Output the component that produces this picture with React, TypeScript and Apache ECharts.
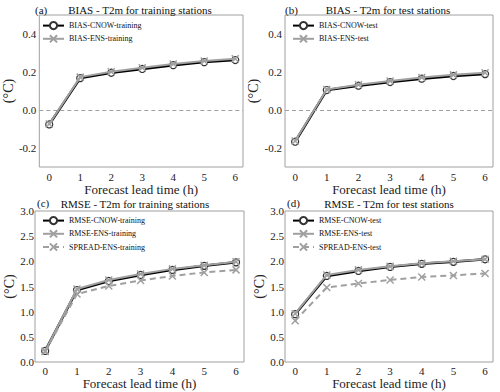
import React, { useEffect, useRef } from "react";
import * as echarts from "echarts";

const leadTimes = [0, 1, 2, 3, 4, 5, 6];

const biasCnowTraining = [-0.076, 0.168, 0.196, 0.216, 0.236, 0.252, 0.263];
const biasEnsTraining = [-0.074, 0.173, 0.201, 0.222, 0.242, 0.258, 0.27];
const biasCnowTest = [-0.167, 0.105, 0.128, 0.147, 0.165, 0.179, 0.189];
const biasEnsTest = [-0.163, 0.108, 0.133, 0.153, 0.171, 0.185, 0.196];

const rmseCnowTraining = [0.22, 1.43, 1.61, 1.73, 1.83, 1.91, 1.98];
const rmseEnsTraining = [0.22, 1.45, 1.63, 1.75, 1.85, 1.92, 1.99];
const spreadEnsTraining = [0.21, 1.35, 1.51, 1.62, 1.71, 1.78, 1.83];
const rmseCnowTest = [0.95, 1.71, 1.81, 1.89, 1.95, 1.99, 2.04];
const rmseEnsTest = [0.96, 1.73, 1.83, 1.9, 1.96, 2.0, 2.04];
const spreadEnsTest = [0.82, 1.48, 1.56, 1.63, 1.69, 1.72, 1.76];

const biasTicks = [-0.2, 0, 0.2, 0.4];

const panelTitles = [
  "BIAS - T2m for training stations",
  "BIAS - T2m for test stations",
  "RMSE - T2m for training stations",
  "RMSE - T2m for test stations",
];
const panelLetters = ["(a)", "(b)", "(c)", "(d)"];

const FONT = "Liberation Serif";
const GRAY = "#a0a0a0";
const XSYM = "path://M0,0L10,10M10,0L0,10";

function pairs(vals: number[]) {
  return vals.map((v, i) => [leadTimes[i], v]);
}

export default function App() {
  const ref = useRef<HTMLDivElement>(null);
  useEffect(() => {
    if (!ref.current) return;
    const chart = echarts.init(ref.current, null, { renderer: "svg" });

    const grids = [
      { left: 35, top: 15, width: 208, height: 152 },
      { left: 285, top: 15, width: 208, height: 152 },
      { left: 35, top: 211, width: 209, height: 151 },
      { left: 285, top: 211, width: 208, height: 151 },
    ].map((g) => ({ ...g, show: true, borderColor: GRAY, borderWidth: 1, backgroundColor: "transparent" }));

    const xAxes = grids.map((_, i) => ({
      type: "value",
      gridIndex: i,
      min: -0.32,
      max: 6.25,
      axisLine: { show: false },
      axisTick: { show: false },
      splitLine: { show: false },
      axisLabel: {
        customValues: leadTimes,
        formatter: (v: number) => String(v),
        fontFamily: FONT,
        fontSize: 11,
        color: "#222",
        margin: i < 2 ? 4 : 3,
      },
      name: "Forecast lead time (h)",
      nameLocation: "middle",
      nameGap: i < 2 ? 12 : 11,
      nameTextStyle: { fontFamily: FONT, fontSize: 13, fontWeight: "normal", color: "#222" },
    }));

    const yAxes = grids.map((_, i) => {
      const base: any = {
        type: "value",
        gridIndex: i,
        axisLine: { show: false },
        axisTick: { show: false },
        splitLine: { show: false },
        name: "(°C)",
        nameLocation: "middle",
        nameGap: 16,
        nameTextStyle: { fontFamily: FONT, fontSize: 14, fontWeight: "normal", color: "#222" },
      };
      if (i < 2) {
        base.min = -0.3;
        base.max = 0.5;
        base.axisLabel = {
          customValues: biasTicks,
          formatter: (v: number) => v.toFixed(1),
          fontFamily: FONT,
          fontSize: 11,
          color: "#222",
          margin: 3,
        };
      } else {
        base.min = 0;
        base.max = 3;
        base.interval = 0.5;
        base.axisLabel = {
          formatter: (v: number) => v.toFixed(1),
          fontFamily: FONT,
          fontSize: 11,
          color: "#222",
          margin: 1,
        };
      }
      return base;
    });

    const cnow = (name: string, data: number[], idx: number, zero: boolean) => ({
      name,
      type: "line",
      xAxisIndex: idx,
      yAxisIndex: idx,
      data: pairs(data),
      symbol: "circle",
      symbolSize: 7,
      showSymbol: true,
      lineStyle: { color: "#000", width: 2.5 },
      itemStyle: { color: "#fff", borderColor: "#333", borderWidth: 1.2 },
      z: 2,
      markLine: zero
        ? {
            silent: true,
            symbol: "none",
            label: { show: false },
            lineStyle: { color: GRAY, type: [4, 3], width: 1 },
            data: [{ yAxis: 0 }],
          }
        : undefined,
    });
    const ens = (name: string, data: number[], idx: number, dashed: boolean) => ({
      name,
      type: "line",
      xAxisIndex: idx,
      yAxisIndex: idx,
      data: pairs(data),
      symbol: XSYM,
      symbolSize: 7,
      showSymbol: true,
      lineStyle: { color: GRAY, width: 2, type: dashed ? [6, 4] : "solid" },
      itemStyle: { color: GRAY, borderColor: GRAY, borderWidth: 1.5 },
      z: 3,
    });

    const series = [
      cnow("BIAS-CNOW-training", biasCnowTraining, 0, true),
      ens("BIAS-ENS-training", biasEnsTraining, 0, false),
      cnow("BIAS-CNOW-test", biasCnowTest, 1, true),
      ens("BIAS-ENS-test", biasEnsTest, 1, false),
      cnow("RMSE-CNOW-training", rmseCnowTraining, 2, false),
      ens("RMSE-ENS-training", rmseEnsTraining, 2, false),
      ens("SPREAD-ENS-training", spreadEnsTraining, 2, true),
      cnow("RMSE-CNOW-test", rmseCnowTest, 3, false),
      ens("RMSE-ENS-test", rmseEnsTest, 3, false),
      ens("SPREAD-ENS-test", spreadEnsTest, 3, true),
    ];

    const legendBase = {
      orient: "vertical",
      itemWidth: 21,
      itemHeight: 9,
      itemGap: 4,
      itemTextGap: 2,
      textStyle: { fontFamily: FONT, fontSize: 8, color: "#111" },
      selectedMode: false,
      padding: 0,
    };
    const legends = [
      { ...legendBase, left: 42, top: 21, data: ["BIAS-CNOW-training", "BIAS-ENS-training"] },
      { ...legendBase, left: 292, top: 21, data: ["BIAS-CNOW-test", "BIAS-ENS-test"] },
      { ...legendBase, left: 42, top: 216, data: ["RMSE-CNOW-training", "RMSE-ENS-training", "SPREAD-ENS-training"] },
      { ...legendBase, left: 292, top: 216, data: ["RMSE-CNOW-test", "RMSE-ENS-test", "SPREAD-ENS-test"] },
    ];

    const titleCenters = [
      [140, 10],
      [388, 10],
      [135, 204],
      [389, 204],
    ];
    const letterPos = [
      [35, 10],
      [285, 10],
      [37, 203],
      [287, 203],
    ];
    const graphics: any[] = [];
    panelTitles.forEach((t, i) => {
      graphics.push({
        type: "text",
        x: titleCenters[i][0],
        y: titleCenters[i][1],
        style: { text: t, fontFamily: FONT, fontSize: 11, fill: "#111", align: "center", verticalAlign: "middle" },
      });
      graphics.push({
        type: "text",
        x: letterPos[i][0],
        y: letterPos[i][1],
        style: { text: panelLetters[i], fontFamily: FONT, fontSize: 11, fill: "#111", align: "left", verticalAlign: "middle" },
      });
    });

    chart.setOption({
      animation: false,
      backgroundColor: "#fff",
      grid: grids,
      xAxis: xAxes,
      yAxis: yAxes,
      legend: legends,
      series,
      graphic: graphics,
    } as any);

    return () => chart.dispose();
  }, []);

  return (
    <div
      ref={ref}
      style={{ position: "absolute", left: 0, top: 0, width: 500, height: 392 }}
    />
  );
}
